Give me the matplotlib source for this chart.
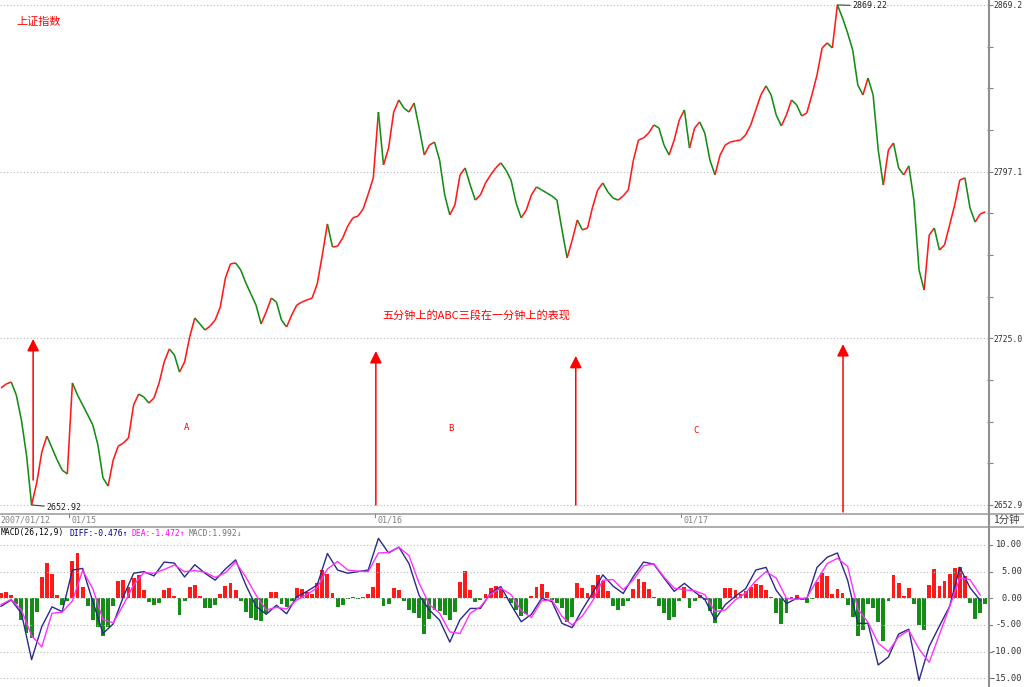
import numpy as np
import matplotlib
matplotlib.use('Agg')
import matplotlib.pyplot as plt
import matplotlib.transforms as mtransforms
from matplotlib.collections import LineCollection

# 1-minute Shanghai Composite, every 4 minutes
close = [2703.5, 2705.2, 2706.1, 2700.5, 2689.7, 2674.5, 2652.92, 2662.4, 2675.8, 2682.7,
         2677.6, 2672.4, 2668.0, 2666.3,
         # 01/15
         2705.7, 2700.5, 2696.2, 2691.9, 2687.5, 2678.9, 2664.6, 2661.1, 2672.4, 2678.4,
         2679.7, 2681.9, 2696.2, 2700.9, 2699.6, 2697.0, 2699.2, 2705.7, 2714.8, 2720.4,
         2717.8, 2710.4, 2714.8, 2725.6, 2733.8, 2731.2, 2728.6, 2730.3, 2732.9, 2738.6,
         2751.1, 2757.2, 2757.6, 2754.6, 2749.0, 2744.2, 2739.4, 2731.2, 2736.4, 2742.4,
         2740.7, 2732.9, 2729.9, 2735.1, 2739.4, 2740.7, 2741.6, 2742.4, 2748.5, 2761.0,
         2774.5, 2764.5, 2764.9, 2768.4, 2773.6, 2777.1, 2777.9, 2780.9, 2787.4, 2794.4,
         # 01/16
         2822.9, 2800.0, 2807.3, 2822.9, 2828.1, 2824.6, 2822.9, 2826.8, 2816.0, 2804.3,
         2808.6, 2809.9, 2802.1, 2787.0, 2778.4, 2782.7, 2795.7, 2798.7, 2791.3, 2784.8,
         2787.0, 2792.2, 2795.7, 2798.7, 2800.9, 2797.8, 2793.5, 2783.5, 2777.1, 2780.5,
         2787.0, 2790.5, 2789.2, 2787.9, 2786.6, 2784.8, 2771.9, 2759.8, 2767.5, 2776.2,
         2771.9, 2772.7, 2781.8, 2789.2, 2792.2, 2788.3, 2785.7, 2784.8, 2786.6, 2789.2,
         2802.1, 2810.8, 2811.7, 2813.8, 2817.3, 2816.0, 2808.6, 2804.3, 2810.8, 2819.5,
         # 01/17
         2823.8, 2807.3, 2816.0, 2818.6, 2813.8, 2802.1, 2795.7, 2804.3, 2808.6, 2809.9,
         2810.4, 2810.8, 2813.0, 2817.3, 2823.8, 2830.3, 2834.2, 2830.3, 2821.6, 2816.9,
         2821.6, 2828.1, 2826.0, 2821.2, 2822.5, 2830.3, 2838.9, 2850.6, 2852.8, 2850.6,
         2869.22, 2863.6, 2857.1, 2849.7, 2834.6, 2830.3, 2837.6, 2830.3, 2806.5, 2791.3,
         2806.5, 2809.5, 2798.7, 2795.7, 2799.6, 2784.8, 2754.6, 2745.9, 2769.7, 2772.7,
         2763.2, 2765.4, 2774.0, 2782.7, 2793.5, 2794.4, 2781.4, 2775.3, 2778.8, 2779.7]

day_labels = ['2007/01/12', '01/15', '01/16', '01/17']
day_start = [0, 14, 74, 134]

# MACD histogram, same samples
hist = [1.0, 1.1, 0.6, -1.0, -4.0, -6.5, -7.5, -2.5, 4.0, 6.6,
        4.5, 0.6, -1.2, -0.5, 7.0, 8.5, 2.2, -1.5, -4.0, -5.3,
        -7.0, -5.3, -1.5, 3.2, 3.4, 2.2, 3.8, 4.3, 1.6, -0.6,
        -1.2, -0.8, 1.5, 2.0, 0.5, -3.2, -0.5, 2.2, 2.5, 0.5,
        -1.8, -1.8, -1.2, 0.8, 2.3, 2.8, 1.6, -0.5, -2.5, -3.7,
        -4.0, -4.3, -2.8, 1.2, 1.2, -1.0, -1.6, -0.5, 2.0, 1.8,
        1.2, 0.9, 2.8, 5.4, 4.5, 1.0, -1.6, -1.3, -0.2, 0.2,
        -0.2, 0.2, 0.8, 2.2, 6.6, -1.5, -1.0, 2.0, 1.5, -0.5,
        -2.2, -2.8, -3.6, -6.6, -3.8, -2.2, -2.4, -3.2, -4.1, -2.5,
        3.0, 5.2, 1.5, -0.6, -0.3, 0.8, 1.9, 2.3, 1.8, 0.3,
        -0.9, -2.2, -3.4, -3.0, 0.5, 2.2, 2.6, 1.2, -0.3, -0.8,
        -1.8, -4.5, -3.5, 2.8, 2.0, 1.0, 2.5, 4.3, 3.2, 1.3,
        -1.4, -2.1, -1.4, -0.5, 1.8, 3.6, 3.0, 1.8, 0.2, -1.5,
        -2.8, -4.0, -3.5, -0.5, 2.2, -1.8, -0.5, 0.6, -0.3, -2.4,
        -4.7, -2.0, 1.9, 2.0, 1.5, 0.9, 1.4, 2.1, 2.6, 2.5,
        1.5, 0.2, -2.8, -4.8, -2.8, 0.3, 0.6, -0.3, -0.9, -0.2,
        3.0, 4.8, 4.1, 0.8, 1.8, 1.0, -1.2, -3.5, -7.0, -6.0,
        -1.0, -1.8, -4.5, -8.0, -0.5, 4.4, 2.8, 0.5, 2.0, -1.0,
        -5.0, -6.0, 2.5, 5.5, 2.3, 3.2, 4.6, 5.7, 5.8, 4.2,
        -0.8, -3.8, -2.8, -1.0]

# DIFF / DEA, every second sample
diff = [-1.5, -0.3, -2.8, -11.5, -5.3, -1.6, -2.5, 5.3, 5.6, -0.6,
        -6.6, -4.8, 0.3, 4.7, 5.0, 4.2, 6.8, 6.6, 4.0, 6.3,
        4.7, 3.4, 5.5, 7.2, 2.5, -1.5, -3.0, -1.3, -2.9, 0.3,
        1.3, 2.5, 8.4, 5.3, 4.7, 5.0, 5.3, 11.25, 8.5, 9.6,
        6.5, 0.5, -2.2, -4.1, -8.2, -4.0, -1.9, -1.9, 1.0, 2.2,
        -1.2, -4.4, -3.0, 0.0, -0.6, -4.7, -5.5, -2.1, 1.0, 4.4,
        2.3, 0.9, 4.1, 6.8, 6.4, 3.8, 1.3, 2.8, 1.2, -0.2,
        -4.0, -1.2, 0.4, 1.8, 5.3, 5.8, 1.5, -1.0, 0.0, -0.1,
        5.8, 7.7, 8.5, 3.4, -4.7, -4.7, -12.5, -11.0, -6.7, -5.8,
        -15.4, -9.0, -5.2, -1.5, 5.8, 2.0, -0.4]
dea = [-1.2, -0.2, -2.2, -7.0, -9.1, -2.8, -2.6, -0.5, 5.2, 1.8,
       -4.0, -4.6, -1.2, 2.5, 4.8, 4.7, 5.4, 6.25, 5.0, 5.2,
       4.9, 3.9, 4.8, 6.8, 4.0, 0.6, -2.2, -1.7, -2.0, -0.3,
       0.7, 2.0, 5.5, 6.9, 5.3, 5.1, 5.0, 8.5, 8.6, 9.6,
       8.0, 2.8, -1.2, -2.8, -6.3, -6.6, -2.8, -1.6, 0.8, 1.9,
       0.7, -2.3, -3.6, -0.5, -0.3, -3.4, -5.0, -3.3, -0.5, 3.4,
       3.5, 1.6, 3.5, 6.1, 6.5, 4.0, 1.9, 1.6, 1.4, 0.7,
       -2.5, -2.2, -0.3, 1.0, 3.3, 5.0, 3.8, 0.0, -0.2, 0.1,
       3.4, 6.5, 7.5, 6.0, -2.0, -4.5, -8.4, -10.0, -7.2, -6.0,
       -9.5, -12.0, -6.8, -1.6, 3.8, 3.5, 0.6]

price_ticks = [2652.9, 2725.0, 2797.1, 2869.2]
macd_ticks = [10, 5, 0, -5, -10, -15]
low_val, low_at = 2652.92, 6
high_val, high_at = 2869.22, 164

# arrows: (sample, from price, to price)
arrows = [(6.3, 2663.7, 2724.7), (73.5, 2652.9, 2719.5),
          (112.7, 2652.9, 2717.4), (165.1, 2649.9, 2722.5)]
wave_labels = [('A', 36.3, 2686.6), ('B', 88.2, 2686.2), ('C', 136.3, 2685.3)]

RED = '#ff1a1a'
GREEN = '#158c15'
MONO = 'DejaVu Sans Mono'
CJK = ['Noto Sans CJK SC', 'DejaVu Sans']

W, H = 1024, 687
fig = plt.figure(figsize=(W / 100, H / 100), dpi=100)
fig.patch.set_facecolor('white')


def rect(x0, y0, x1, y1):
    return [x0 / W, 1 - y1 / H, (x1 - x0) / W, (y1 - y0) / H]


n = len(close)
idx = np.arange(n)
c = np.array(close)
xlim = (-0.196, 193.33)

# ---- price panel
ax = fig.add_axes(rect(0, 0, 987, 512))
ax.set_xlim(*xlim)
ax.set_ylim(2649.87, 2871.36)
for t in price_ticks:
    ax.axhline(t, color='#b8b8b8', lw=0.8, ls=(0, (1, 2)))
pts = np.column_stack([idx, c])
segs = np.stack([pts[:-1], pts[1:]], axis=1)
cols = [RED if b >= a else GREEN for a, b in zip(c[:-1], c[1:])]
ax.add_collection(LineCollection(segs, colors=cols, linewidths=1.15, capstyle='butt'))

for xa, y0, y1 in arrows:
    ax.annotate('', xy=(xa, y1), xytext=(xa, y0),
                arrowprops=dict(arrowstyle='-|>,head_length=0.6,head_width=0.3',
                                color='#ff0000', lw=1.1, mutation_scale=12,
                                shrinkA=0, shrinkB=0))
for s, xw, yw in wave_labels:
    ax.text(xw, yw, s, color='#ff0000', fontsize=6.5, family=MONO, ha='center', va='center')

ax.text(74.7, 2735.1, '五分钟上的ABC三段在一分钟上的表现', color='#ff0000', fontsize=8,
        family=CJK, ha='left', va='center')

ax.annotate('2652.92', xy=(low_at, low_val), xytext=(low_at + 3.0, low_val - 1.3),
            fontsize=6.0, family=MONO, va='center', color='#202020',
            arrowprops=dict(arrowstyle='-', color='#404040', lw=0.8, shrinkA=0, shrinkB=0))
ax.annotate('2869.22', xy=(high_at, high_val), xytext=(high_at + 3.0, high_val - 0.4),
            fontsize=6.0, family=MONO, va='center', color='#202020',
            arrowprops=dict(arrowstyle='-', color='#404040', lw=0.8, shrinkA=0, shrinkB=0))

ax.set_yticks(price_ticks)
ax.set_yticks(np.arange(price_ticks[0], price_ticks[-1] + 1, 18.025), minor=True)
ax.set_yticklabels(['%.1f' % t for t in price_ticks])
ax.yaxis.tick_right()
ax.tick_params(axis='y', which='both', direction='out', length=4, width=0.8,
               color='#808080', pad=0.5, labelsize=5.8, labelcolor='#303030')
for lab in ax.get_yticklabels():
    lab.set_family(MONO)
ax.set_xticks([])
for sp in ax.spines.values():
    sp.set_visible(False)
ax.text(16 / 987, 1 - 22 / 512, '上证指数', transform=ax.transAxes, color='#ff0000',
        fontsize=8, family=CJK, va='center')

# ---- MACD panel
ax2 = fig.add_axes(rect(0, 527, 987, 687))
ax2.set_xlim(*xlim)
ax2.set_ylim(-16.63, 13.37)
for t in macd_ticks:
    ax2.axhline(t, color='#b8b8b8', lw=0.8, ls=(0, (1, 2)))
h = np.array(hist)
hcols = [RED if v >= 0 else GREEN for v in h]
ax2.bar(idx, h, width=0.75, color=hcols, lw=0)
lx = np.arange(0, n, 2)[:len(diff)]
ax2.plot(lx, diff, color='#2a2a8a', lw=1.0)
ax2.plot(lx, dea, color='#ff30ff', lw=1.0)
ax2.set_xticks([])
ax2.set_yticks([])
for sp in ax2.spines.values():
    sp.set_visible(False)
tr = mtransforms.blended_transform_factory(fig.transFigure, ax2.transData)
for t in macd_ticks:
    ax2.text(1022 / W, t, '%.2f' % t, transform=tr, ha='right', va='center',
             fontsize=6.2, family=MONO, color='#303030')
    ax2.plot([988 / W, 992 / W], [t, t], transform=tr, color='#808080', lw=0.8, clip_on=False)

# header of the MACD panel
hy = 1 - 533 / H
fig.text(1 / W, hy, 'MACD(26,12,9)', fontsize=5.8, family=MONO, color='black', va='center')
fig.text(69 / W, hy, 'DIFF:-0.476↑', fontsize=5.8, family=MONO, color='#000090', va='center')
fig.text(132 / W, hy, 'DEA:-1.472↑', fontsize=5.8, family=MONO, color='#ff00ff', va='center')
fig.text(189 / W, hy, 'MACD:1.992↓', fontsize=5.8, family=MONO, color='#707070', va='center')

# ---- date strip and frame lines
ax3 = fig.add_axes(rect(0, 512, 987, 527))
ax3.set_xlim(*xlim)
ax3.set_ylim(0, 1)
ax3.axis('off')
for k, (lab, d) in enumerate(zip(day_labels, day_start)):
    xd = -0.05 if k == 0 else d - 0.25
    ax3.text(xd, 0.45, lab, fontsize=6.0, family=MONO, color='#808080',
             va='center', ha='left')
    if k > 0:
        ax3.plot([d - 0.6, d - 0.6], [0.7, 0.95], color='#808080', lw=0.8)

fig.add_artist(plt.Line2D([0, 1], [1 - 513.5 / H] * 2, color='#a0a0a0', lw=1.2))
fig.add_artist(plt.Line2D([0, 1], [1 - 526.5 / H] * 2, color='#a0a0a0', lw=1.2))
fig.add_artist(plt.Line2D([988.5 / W] * 2, [0, 1], color='#909090', lw=1.5))
fig.text(1006 / W, 1 - 520 / H, '1分钟', fontsize=7.5, family=CJK, color='#404040',
         ha='center', va='center')

fig.savefig('out.png', dpi=100, facecolor='white')
